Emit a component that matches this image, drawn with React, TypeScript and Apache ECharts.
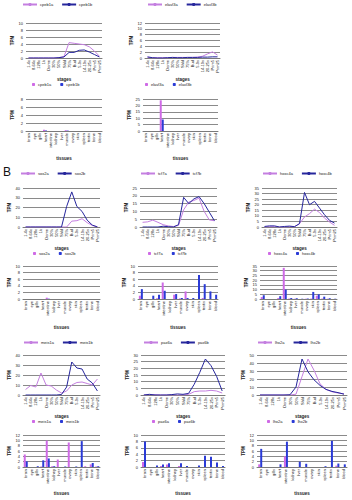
import React, { useEffect, useRef } from "react";
import * as echarts from "echarts";

const stages = ["1-4c", "8-64c", "128c", "1k", "Dome", "30%", "50%", "Shld", "75%", "Bud", "5-9s", "14-19s", "20-25s", "Prim5", "Prim25"];
const tissues = ["brain", "eye", "gills", "heart", "intestine", "kidney", "liver", "muscle", "ovary", "skin", "spleen", "testis", "bone", "blood"];

// Section A
const aNames1 = ["cpeb1a", "cpeb1b"];
const aNames2 = ["elavl3a", "elavl3b"];
const a1LineA = [0, 0, 0, 0, 0, 0, 0.1, 0.4, 4.4, 4.2, 4.0, 3.8, 3.2, 2.0, 0.5];
const a1LineB = [0, 0, 0, 0, 0, 0, 0.1, 0.3, 1.6, 1.6, 2.2, 2.3, 1.7, 1.0, 0.3];
const a2LineA = [0.2, 0.1, 0.1, 0.1, 0.1, 0.2, 0.2, 0.2, 0.2, 0.2, 0.3, 0.6, 1.4, 2.1, 1.0];
const a2LineB = [0.4, 0.1, 0, 0, 0.1, 0.2, 0.1, 0.1, 0.2, 0.2, 0.2, 0.3, 0.3, 0.4, 0.4];
const a1BarA = [0, 0, 0, 0.3, 0, 0, 0, 0.2, 0, 0, 0, 0, 0, 0];
const a1BarB = [0, 0, 0, 0.15, 0, 0, 0, 0.1, 0, 0, 0, 0, 0, 0];
const a2BarA = [0, 0, 0, 24, 0, 0, 0, 0, 0, 0, 0, 0, 0, 0];
const a2BarB = [0, 0, 0, 9, 0, 0, 0, 0, 0, 0, 0, 0, 0, 0];

// Section B, upper pair of rows
const bNames1 = ["sox2a", "sox2b"];
const bNames2 = ["tcf7a", "tcf7b"];
const bNames3 = ["hoxc4a", "hoxc4b"];
const b1LineA = [0, 0, 0, 0, 0, 0, 0, 0, 0, 6, 6.5, 8.5, 4.5, 1.5, 0.3];
const b1LineB = [0, 0, 0, 0, 0, 0, 0, 0, 21, 36, 21, 16, 7, 2, 0];
const b2LineA = [3, 3.3, 4.4, 3, 1.5, 0.7, 0.3, 1, 11, 16, 17, 18.5, 10, 4.5, 4];
const b2LineB = [0, 0, 0, 0, 0.5, 0.2, 0, 1.5, 19, 15, 18, 19.5, 15, 9.5, 4];
const b3LineA = [0, 0.3, 0.3, 0, 0, 0.3, 0.3, 3, 9, 12, 16, 13, 8, 4.5, 1.5];
const b3LineB = [0.5, 1, 1, 0, 0.5, 0.8, 0.3, 3, 31, 20, 23, 17, 11, 6, 3.5];
const b1BarA = [0, 0, 0, 0, 0.4, 0, 0, 0, 0, 0, 0, 0, 0, 0];
const b1BarB = [0, 0, 0, 0, 0.1, 0, 0, 0, 0, 0, 0, 0, 0, 0];
const b2BarA = [1, 0, 0, 0.2, 5, 0, 1.3, 0.2, 2.3, 0, 0, 0.3, 0, 0];
const b2BarB = [3, 0, 1, 1.3, 2.5, 0, 1.5, 0.3, 0.3, 0.3, 7.3, 4.5, 2.3, 1.3];
const b3BarA = [2, 0, 0, 1, 33, 0.5, 0.3, 0, 0.3, 0.5, 3.5, 0.5, 0.3, 0];
const b3BarB = [4, 0, 0, 3, 10, 1, 0.8, 0.3, 0.5, 7.5, 5, 2.5, 0.8, 0.3];

// Section B, lower pair of rows
const cNames1 = ["meis1a", "meis1b"];
const cNames2 = ["pax6a", "pax6b"];
const cNames3 = ["lhx2a", "lhx2b"];
const c1LineA = [5.5, 9.5, 8, 22, 10, 9, 5, 2, 4, 10, 12.5, 13, 11.5, 10, 16];
const c1LineB = [0, 0, 0, 0, 0, 0, 0, 0.5, 8, 33, 27, 26, 16, 12, 4];
const c2LineA = [0, 0.3, 0.2, 0, 0, 0, 0, 0, 0.5, 2.5, 3, 3, 3.5, 3, 1.5];
const c2LineB = [0, 0.5, 0, 0, 0, 0.3, 0.8, 0.5, 1.2, 8, 17, 27, 22, 14, 3];
const c3LineA = [0, 0, 0, 0, 0, 0, 1, 23, 45, 31, 14, 7, 4, 2.5, 1.5];
const c3LineB = [0, 0, 0, 0, 0, 0.3, 10, 45, 29, 19, 12, 7, 4.5, 3, 1];
const c1BarA = [4.7, 0, 0, 0.2, 9.9, 0.3, 2.8, 0, 9.2, 0, 0, 0.3, 1, 0.2];
const c1BarB = [2.1, 0, 0.3, 2.5, 3.2, 0.3, 0, 0.2, 0, 0.2, 9.7, 0, 1.5, 0.3];
const c2BarA = [1.6, 0, 0, 0.3, 0.8, 0, 0.3, 0, 0, 0, 0, 0, 0, 0];
const c2BarB = [8, 0, 0.5, 0.8, 1.2, 0, 1.2, 0.3, 0, 0.5, 3.5, 3.2, 1.4, 0.3];
const c3BarA = [1, 0, 0, 0, 4, 0, 0, 0, 0, 0, 0, 0, 0.5, 0];
const c3BarB = [6.8, 0, 0, 1, 9.5, 0, 2, 1.2, 0, 0, 0.3, 9.8, 1.3, 1];

const PINK_LINE = "#c47fe0";
const BLUE_LINE = "#26269c";
const PINK_BAR = "#cf6ae6";
const BLUE_BAR = "#2b3bd6";

type Panel = {
  kind: "line" | "bar";
  left: number; top: number; width: number; height: number;
  names: string[]; a: number[]; b: number[];
  max: number; step: number;
  legendLeft: number; legendY: number; nameY: number;
};

const panels: Panel[] = [
  // Section A
  { kind: "line", left: 26, top: 23, width: 76, height: 35, names: aNames1, a: a1LineA, b: a1LineB, max: 10, step: 2, legendLeft: 22, legendY: 5, nameY: 76 },
  { kind: "line", left: 145, top: 23, width: 75, height: 35, names: aNames2, a: a2LineA, b: a2LineB, max: 12, step: 2, legendLeft: 147, legendY: 5, nameY: 76 },
  { kind: "bar", left: 26, top: 99, width: 76, height: 32, names: aNames1, a: a1BarA, b: a1BarB, max: 8, step: 2, legendLeft: 32, legendY: 85, nameY: 158 },
  { kind: "bar", left: 143, top: 99, width: 75, height: 32, names: aNames2, a: a2BarA, b: a2BarB, max: 25, step: 5, legendLeft: 145, legendY: 85, nameY: 158 },
  // Section B row 1/2
  { kind: "line", left: 23, top: 188, width: 77, height: 39, names: bNames1, a: b1LineA, b: b1LineB, max: 40, step: 10, legendLeft: 20, legendY: 174, nameY: 245 },
  { kind: "line", left: 140, top: 188, width: 77, height: 39, names: bNames2, a: b2LineA, b: b2LineB, max: 25, step: 5, legendLeft: 140, legendY: 174, nameY: 245 },
  { kind: "line", left: 262, top: 188, width: 75, height: 39, names: bNames3, a: b3LineA, b: b3LineB, max: 35, step: 5, legendLeft: 262, legendY: 174, nameY: 245 },
  { kind: "bar", left: 23, top: 266, width: 77, height: 33, names: bNames1, a: b1BarA, b: b1BarB, max: 10, step: 2, legendLeft: 33, legendY: 254, nameY: 327 },
  { kind: "bar", left: 138, top: 266, width: 80, height: 33, names: bNames2, a: b2BarA, b: b2BarB, max: 10, step: 2, legendLeft: 148, legendY: 254, nameY: 327 },
  { kind: "bar", left: 260, top: 266, width: 77, height: 33, names: bNames3, a: b3BarA, b: b3BarB, max: 35, step: 5, legendLeft: 268, legendY: 254, nameY: 327 },
  // Section B row 3/4
  { kind: "line", left: 23, top: 355, width: 77, height: 40, names: cNames1, a: c1LineA, b: c1LineB, max: 40, step: 10, legendLeft: 23, legendY: 343, nameY: 413 },
  { kind: "line", left: 141, top: 355, width: 84, height: 40, names: cNames2, a: c2LineA, b: c2LineB, max: 30, step: 5, legendLeft: 143, legendY: 343, nameY: 413 },
  { kind: "line", left: 257, top: 355, width: 90, height: 40, names: cNames3, a: c3LineA, b: c3LineB, max: 50, step: 10, legendLeft: 257, legendY: 343, nameY: 413 },
  { kind: "bar", left: 23, top: 435, width: 77, height: 32, names: cNames1, a: c1BarA, b: c1BarB, max: 12, step: 2, legendLeft: 32, legendY: 422, nameY: 493 },
  { kind: "bar", left: 141, top: 435, width: 84, height: 32, names: cNames2, a: c2BarA, b: c2BarB, max: 10, step: 2, legendLeft: 152, legendY: 422, nameY: 493 },
  { kind: "bar", left: 257, top: 435, width: 90, height: 32, names: cNames3, a: c3BarA, b: c3BarB, max: 12, step: 2, legendLeft: 267, legendY: 422, nameY: 493 },
];

const FONT = "Arial";

function buildOption() {
  const grid: any[] = [];
  const xAxis: any[] = [];
  const yAxis: any[] = [];
  const series: any[] = [];
  const legend: any[] = [];
  panels.forEach((p, i) => {
    const isLine = p.kind === "line";
    const suffix = isLine ? "" : " ";
    const nA = p.names[0] + suffix;
    const nB = p.names[1] + suffix;
    grid.push({ left: p.left, top: p.top, width: p.width, height: p.height, containLabel: false });
    xAxis.push({
      type: "category", gridIndex: i, data: isLine ? stages : tissues, boundaryGap: true,
      axisLine: { lineStyle: { color: "#7a7a7a", width: 1 } },
      axisTick: { show: false },
      axisLabel: { rotate: 90, fontSize: 4, margin: 2, interval: 0, color: "#222", fontFamily: FONT },
      name: isLine ? "stages" : "tissues", nameLocation: "middle",
      nameGap: p.nameY - (p.top + p.height) - 2,
      nameTextStyle: { fontSize: 4.5, fontWeight: "bold", color: "#222", fontFamily: FONT },
    });
    yAxis.push({
      type: "value", gridIndex: i, min: 0, max: p.max, interval: p.step,
      splitLine: { lineStyle: { color: "#8a8a8a", width: 1 } },
      axisLine: { show: false }, axisTick: { show: false },
      axisLabel: { fontSize: 4, margin: 3, color: "#222", fontFamily: FONT },
      name: "TPM", nameLocation: "middle", nameGap: 11, nameRotate: 90,
      nameTextStyle: { fontSize: 4.5, fontWeight: "bold", color: "#222", fontFamily: FONT },
    });
    if (isLine) {
      series.push({ type: "line", name: nA, xAxisIndex: i, yAxisIndex: i, data: p.a, symbol: "none", lineStyle: { width: 1, color: PINK_LINE }, itemStyle: { color: PINK_LINE } });
      series.push({ type: "line", name: nB, xAxisIndex: i, yAxisIndex: i, data: p.b, symbol: "none", lineStyle: { width: 1, color: BLUE_LINE }, itemStyle: { color: BLUE_LINE } });
    } else {
      series.push({ type: "bar", name: nA, xAxisIndex: i, yAxisIndex: i, data: p.a, barWidth: 2, barGap: "0%", itemStyle: { color: PINK_BAR } });
      series.push({ type: "bar", name: nB, xAxisIndex: i, yAxisIndex: i, data: p.b, barWidth: 2, barGap: "0%", itemStyle: { color: BLUE_BAR } });
    }
    legend.push({
      data: [nA, nB], left: p.legendLeft, top: p.legendY - 2.5, padding: 0,
      itemWidth: isLine ? 14 : 3, itemHeight: isLine ? 4 : 3, itemGap: 8,
      selectedMode: false,
      textStyle: { fontSize: 4, color: "#222", fontFamily: FONT, padding: [0, 0, 0, -2] },
    });
  });
  return {
    animation: false,
    backgroundColor: "#ffffff",
    grid, xAxis, yAxis, series, legend,
    graphic: [{ type: "text", left: 3, top: 166, style: { text: "B", fontSize: 12, fontFamily: FONT, fill: "#111" } }],
  };
}

export default function App() {
  const ref = useRef<HTMLDivElement>(null);
  useEffect(() => {
    document.body.style.margin = "0";
    if (!ref.current) return;
    const chart = echarts.init(ref.current, undefined, { renderer: "svg" });
    chart.setOption(buildOption() as any);
    return () => chart.dispose();
  }, []);
  return <div ref={ref} style={{ width: 352, height: 500 }} />;
}
